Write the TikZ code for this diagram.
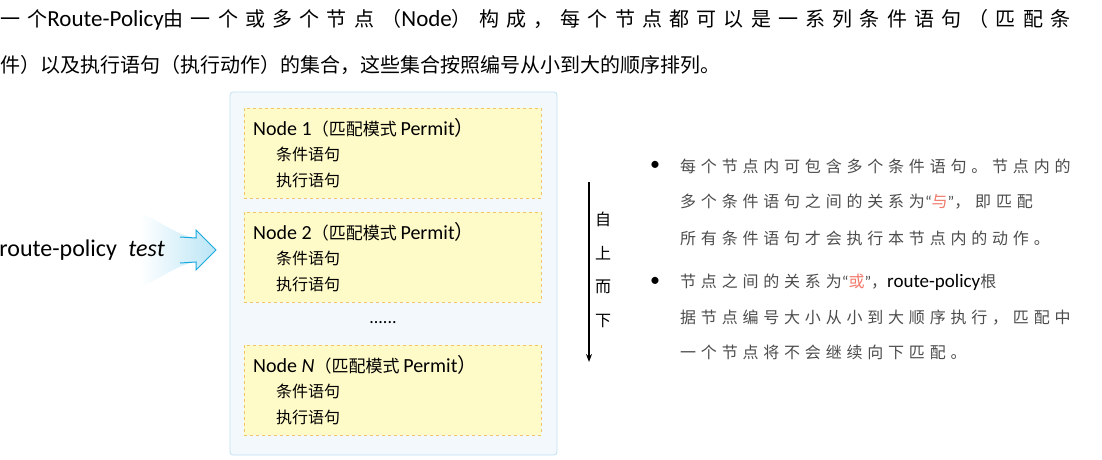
\documentclass[tikz,border=0pt]{standalone}
\usepackage{fontspec}
\setmainfont{Carlito}
\newfontfamily\zhfont{Noto Sans CJK SC}
\newfontfamily\zhtitle[LetterSpace=36]{Noto Sans CJK SC}
\newfontfamily\zhnote[LetterSpace=30]{Noto Sans CJK SC}
\newcommand{\zh}[1]{{\zhfont #1}}
\newcommand{\zht}[1]{{\zhtitle #1}}
\newcommand{\zhn}[1]{{\zhnote #1}}
\usetikzlibrary{positioning,arrows.meta}
\definecolor{boxblue}{HTML}{F2F8FC}
\definecolor{lineblue}{HTML}{BFE0F2}
\definecolor{nodeyellow}{HTML}{FFFBC8}
\definecolor{nodeborder}{HTML}{F2C46A}
\definecolor{hlred}{HTML}{F07868}
\definecolor{arrowblue}{HTML}{1AA8E0}
\tikzset{
  policybox/.style={draw=lineblue, fill=boxblue, rounded corners=3pt, line width=0.8pt},
  nodebox/.style={draw=nodeborder, fill=nodeyellow, dashed, line width=0.8pt},
  headtxt/.style={anchor=west, font=\fontsize{20}{24}\selectfont, inner sep=0pt},
  sentxt/.style={anchor=west, font=\fontsize{16}{19}\selectfont\zhfont, inner sep=0pt},
  notetxt/.style={anchor=west, text=black!70, inner sep=0pt, font=\fontsize{16}{19}\selectfont},
}
\begin{document}
\begin{tikzpicture}[x=1pt, y=-1pt]
  \useasboundingbox (0,0) rectangle (1102,460);
  \clip (0,0) rectangle (1102,460);
  % title
  \node (title1) at (0,20) [anchor=west, inner sep=0pt, font=\fontsize{20}{24}\selectfont]
    {\zht{一个}{\fontsize{23}{24}\selectfont Route-Policy}\zht{由一个或多个节点（}{\fontsize{23}{24}\selectfont Node}\zht{）构成，每个节点都可以是一系列条件语句（匹配条}};
  \node (title2) at (0,65) [anchor=west, inner sep=0pt, font=\fontsize{20}{24}\selectfont\zhfont]
    {件）以及执行语句（执行动作）的集合，这些集合按照编号从小到大的顺序排列。};
  % policy
  \shade[left color=white, right color=arrowblue!30]
    (140,212) .. controls (165,225) and (180,236) .. (196,238) -- (196,230) -- (216,250)
    -- (196,270) -- (196,262) .. controls (180,264) and (165,275) .. (140,288) -- cycle;
  \draw[arrowblue, line width=1pt, line join=miter]
    (180,237) -- (196,238) -- (196,230) -- (216,250) -- (196,270) -- (196,262) -- (180,263);
  \node (policy) at (165,250) [anchor=east, inner sep=0pt, font=\fontsize{24}{26}\selectfont]
    {route-policy \hspace{6pt}\textit{test}};
  % container
  \node (outer) at (393.5,273.5) [policybox, minimum width=327pt, minimum height=363pt] {};
  \foreach \y/\n/\k in {108/1/a, 212/2/b, 345/\textit{N}/c} {
    \node (node\k) at (392.5,\y+45) [nodebox, minimum width=297pt, minimum height=90pt] {};
    \node (head\k) at (253,\y+20) [headtxt]
      {Node \n{\fontsize{17}{20}\selectfont\zhfont（匹配模式 }Permit\zh{）}};
    \node (cond\k) at (276,\y+46) [sentxt] {条件语句};
    \node (act\k) at (276,\y+72) [sentxt] {执行语句};
  }
  \node (dots) at (383,323) [font=\fontsize{18}{19}\selectfont] {......};
  % order
  \coordinate (top) at (589,182);
  \coordinate (bottom) at (589,362);
  \draw[-{Stealth[length=8pt]}, line width=1.5pt] (top) -- (bottom);
  \foreach \t [count=\i] in {自,上,而,下}
    \node (ord\i) at (603,185+34*\i) [font=\fontsize{16}{19}\selectfont\zhfont] {\t};
  % notes
  \foreach \y in {166,282}
    \node (bul\y) at (655,\y) [font=\fontsize{20}{20}\selectfont] {•};
  \node (n1) at (680,166) [notetxt] {\zhn{每个节点内可包含多个条件语句。节点内的}};
  \node (n2) at (680,202) [notetxt] {\zhn{多个条件语句之间的关系为}“\zhn{\textcolor{hlred}{与}}”\zhn{，即匹配}};
  \node (n3) at (680,238) [notetxt] {\zhn{所有条件语句才会执行本节点内的动作。}};
  \node (n4) at (680,282) [notetxt] {\zhn{节点之间的关系为}“\zhn{\textcolor{hlred}{或}}”\zhn{，}{\fontsize{19}{20}\selectfont\color{black}route-policy}\zhn{根}};
  \node (n5) at (680,318) [notetxt] {\zhn{据节点编号大小从小到大顺序执行，匹配中}};
  \node (n6) at (680,352) [notetxt] {\zhn{一个节点将不会继续向下匹配。}};
\end{tikzpicture}
\end{document}
